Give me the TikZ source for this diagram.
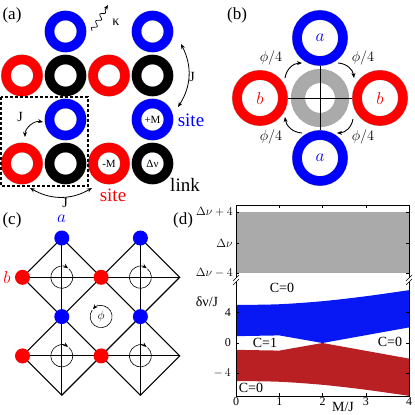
\documentclass[tikz,border=0pt]{standalone}
\usepackage{fontspec}
\setmainfont{Liberation Serif}
\usetikzlibrary{arrows.meta,decorations.pathmorphing}
\definecolor{ringblue}{RGB}{0,0,255}
\definecolor{ringred}{RGB}{255,0,0}
\definecolor{bandred}{RGB}{185,32,36}
\definecolor{bandblue}{RGB}{8,24,245}
\definecolor{grayfill}{RGB}{170,170,170}
\newcommand\fsz[1]{\fontsize{#1}{#1}\selectfont}
\begin{document}
\begin{tikzpicture}[x=1pt,y=-1pt,
  ringa/.style={circle, draw=gray!70, double=#1, double distance=9.4pt, line width=0.3pt,
    minimum size=32pt, inner sep=0pt, outer sep=5pt, font=\fsz{11}},
  ringb/.style={circle, draw=gray!70, double=#1, double distance=9.4pt, line width=0.3pt,
    minimum size=46pt, inner sep=0pt, outer sep=5pt, font=\fsz{19}},
  ringg/.style={circle, draw=gray!80, double=grayfill, double distance=13.4pt, line width=0.3pt,
    minimum size=44pt, inner sep=0pt, outer sep=7pt},
  lbl/.style={inner sep=0pt, font=\fsz{#1}},
  tip/.style={-{Stealth[length=5pt,width=4pt]}},
  dtip/.style={{Stealth[length=5pt,width=4pt]}-{Stealth[length=5pt,width=4pt]}},
  dotb/.style={circle, fill=ringblue, minimum size=15pt, inner sep=0pt},
  dotr/.style={circle, fill=ringred, minimum size=15pt, inner sep=0pt},
  latt/.style={line width=1.1pt},
  ax/.style={line width=0.7pt},
  tk/.style={line width=0.5pt}]
\useasboundingbox (0,0) rectangle (415,415);

% ---------------- (a)
\node[lbl=17] (la) at (12,15) {(a)};
\node[ringa=ringblue] (a1) at (65.5,31.5) {};
\node[ringa=ringblue] (a2) at (152.5,31.5) {};
\node[ringa=ringred] (a3) at (22,75.5) {};
\node[ringa=black] (a4) at (65.5,75.5) {};
\node[ringa=ringred] (a5) at (109,75.5) {};
\node[ringa=black] (a6) at (152.5,75.5) {};
\node[ringa=ringblue] (a7) at (65.5,119.5) {};
\node[ringa=ringblue] (a8) at (152.5,119.5) {+M};
\node[ringa=ringred] (a9) at (22,163.5) {};
\node[ringa=black] (a10) at (65.5,163.5) {};
\node[ringa=ringred] (a11) at (109,163.5) {-M};
\node[ringa=black] (a12) at (152.5,163.5) {Δν};
\draw[line width=1.2pt, dash pattern=on 3pt off 2pt] (1,97) rectangle (88,186);
\coordinate (k0) at (92,31);
\coordinate (k1) at (108,5);
\draw[decorate, decoration={snake, amplitude=2.2pt, segment length=8pt, post length=5pt}, tip, line width=0.7pt] (k0) -- (k1);
\node[lbl=14] (kap) at (116,22) {κ};
\coordinate (j1a) at (181,44);
\coordinate (j1b) at (178,107);
\draw[dtip, line width=0.8pt] (j1a) to[bend left=30] (j1b);
\node[lbl=14] (jl1) at (192,77) {J};
\coordinate (j2a) at (25,137);
\coordinate (j2b) at (43,122);
\draw[dtip, line width=0.8pt] (j2a) to[bend left=50] (j2b);
\node[lbl=14] (jl2) at (20,117) {J};
\coordinate (j3a) at (30,188);
\coordinate (j3b) at (92,188);
\draw[dtip, line width=0.8pt] (j3a) to[bend right=30] (j3b);
\node[lbl=14] (jl3) at (65,203) {J};
\node[lbl=19, text=ringblue] (sb) at (191,120) {site};
\node[lbl=19, text=ringred] (sr) at (113,195) {site};
\node[lbl=19] (lk) at (185,185) {link};

% ---------------- (b)
\node[lbl=17] (lb) at (237,15) {(b)};
\node[ringg] (bg) at (320,98) {};
\node[ringb=ringblue] (bt) at (320,38) {$\color{ringblue}a$};
\node[ringb=ringblue] (bb) at (320,158) {$\color{ringblue}a$};
\node[ringb=ringred] (bl) at (260,98) {$\color{ringred}b$};
\node[ringb=ringred] (br) at (380,98) {$\color{ringred}b$};
\draw[line width=1pt] (bl) -- (br);
\draw[line width=1pt] (bt) -- (bb);
\node[lbl=14.5] (f1) at (271,58) {$\phi/4$};
\node[lbl=14.5] (f2) at (363,58) {$\phi/4$};
\node[lbl=14.5] (f3) at (271,137) {$\phi/4$};
\node[lbl=14.5] (f4) at (363,137) {$\phi/4$};
\coordinate (q1a) at (285,78);  \coordinate (q1b) at (302,63);
\coordinate (q2a) at (338,63);  \coordinate (q2b) at (354,78);
\coordinate (q3a) at (353,119); \coordinate (q3b) at (337,133);
\coordinate (q4a) at (302,133); \coordinate (q4b) at (285,117);
\draw[tip, line width=0.9pt] (q1a) to[bend left=40] (q1b);
\draw[tip, line width=0.9pt] (q2a) to[bend left=40] (q2b);
\draw[tip, line width=0.9pt] (q3a) to[bend left=40] (q3b);
\draw[tip, line width=0.9pt] (q4a) to[bend left=40] (q4b);

% ---------------- (c)
\node[lbl=17] (lc) at (12,220) {(c)};
\foreach \i/\x in {0/22.5,1/61.8,2/101.1,3/140.4,4/179.7}
  \foreach \j/\y in {0/238,1/277.3,2/316.6,3/355.9,4/395.2}
    \coordinate (p\i\j) at (\x,\y);
\draw[latt] (p10) -- (p14);
\draw[latt] (p30) -- (p34);
\draw[latt] (p01) -- (p41);
\draw[latt] (p03) -- (p43);
\draw[latt] (p10) -- (p21) -- (p12) -- (p01) -- cycle;
\draw[latt] (p30) -- (p41) -- (p32) -- (p21) -- cycle;
\draw[latt] (p12) -- (p23) -- (p14) -- (p03) -- cycle;
\draw[latt] (p32) -- (p43) -- (p34) -- (p23) -- cycle;
\foreach \c in {p11,p31,p13,p33}
  \draw[tip, line width=0.6pt] ([shift={(-50:11)}]\c) arc[start angle=-410, end angle=-55, radius=11];
\draw[tip, line width=0.6pt] ([shift={(216:11)}]p22) arc[start angle=216, end angle=-138, radius=11];
\node[lbl=13] (phi) at (p22) {$\phi$};
\node[dotb] (da1) at (p10) {};
\node[dotb] (da2) at (p30) {};
\node[dotb] (da3) at (p12) {};
\node[dotb] (da4) at (p32) {};
\node[dotr] (db1) at (p01) {};
\node[dotr] (db2) at (p21) {};
\node[dotr] (db3) at (p03) {};
\node[dotr] (db4) at (p23) {};
\node[lbl=19] (ca) at (61.5,219) {$\color{ringblue}a$};
\node[lbl=19] (cb) at (7,277) {$\color{ringred}b$};

% ---------------- (d)
\node[lbl=17] (ld) at (183,220) {(d)};
\fill[grayfill] (236,212) rectangle (409,273);
\draw[ax] (236,278) -- (236,205) -- (409,205) -- (409,278);
\foreach \x in {279.25,322.5,365.75} \draw[tk] (\x,205) -- ++(0,3);
\foreach \y in {212,243,273} {\draw[tk] (236,\y) -- ++(3,0); \draw[tk] (409,\y) -- ++(-3,0);}
\node[lbl=12, anchor=east] (u1) at (233,212) {$\Delta\nu+4$};
\node[lbl=12, anchor=east] (u2) at (233,243) {$\Delta\nu$};
\node[lbl=12, anchor=east] (u3) at (233,273) {$\Delta\nu-4$};
% break marks
\draw[tk] (233,281) -- (239,275);
\draw[tk] (233,285) -- (239,279);
\draw[tk] (406,281) -- (412,275);
\draw[tk] (406,285) -- (412,279);
\begin{scope}[shift={(236,343)}, x=43.25pt, y=7.6pt]
\fill[bandblue] plot[smooth] coordinates {(0,5) (1,5.1) (2,5.5) (3,6.15) (4,6.95)}
  -- (4,2.05) -- (2,0) -- (1,1) -- (0,0.9) -- cycle;
\fill[bandred] (0,-0.9) -- (1,-1) -- (2,0) -- (4,-2.05)
  -- plot[smooth] coordinates {(4,-6.95) (3,-6.15) (2,-5.5) (1,-5.1) (0,-5)} -- cycle;
\end{scope}
\draw[ax] (236,282) -- (236,396) -- (409,396) -- (409,282);
\foreach \x in {279.25,322.5,365.75} \draw[tk] (\x,396) -- ++(0,-3);
\foreach \y in {312.6,343,373.4} {\draw[tk] (236,\y) -- ++(3,0); \draw[tk] (409,\y) -- ++(-3,0);}
\node[lbl=12] (x0) at (236,402) {0};
\node[lbl=12] (x1) at (279.25,402) {1};
\node[lbl=12] (x2) at (322.5,402) {2};
\node[lbl=12] (x3) at (365.75,402) {3};
\node[lbl=12] (x4) at (409,402) {4};
\node[lbl=12, anchor=east] (y1) at (231,312.6) {4};
\node[lbl=12, anchor=east] (y2) at (231,343) {0};
\node[lbl=12, anchor=east] (y3) at (231,373.4) {$-\,4$};
\node[lbl=14, anchor=base] (mj) at (343,411.5) {M/J};
\node[lbl=14] (dv) at (207,302) {δν/J};
\node[lbl=14] (c1) at (282,288) {C=0};
\node[lbl=14] (c2) at (265,343) {C=1};
\node[lbl=14] (c3) at (390,342) {C=0};
\node[lbl=14] (c4) at (251,388) {C=0};
\end{tikzpicture}
\end{document}
